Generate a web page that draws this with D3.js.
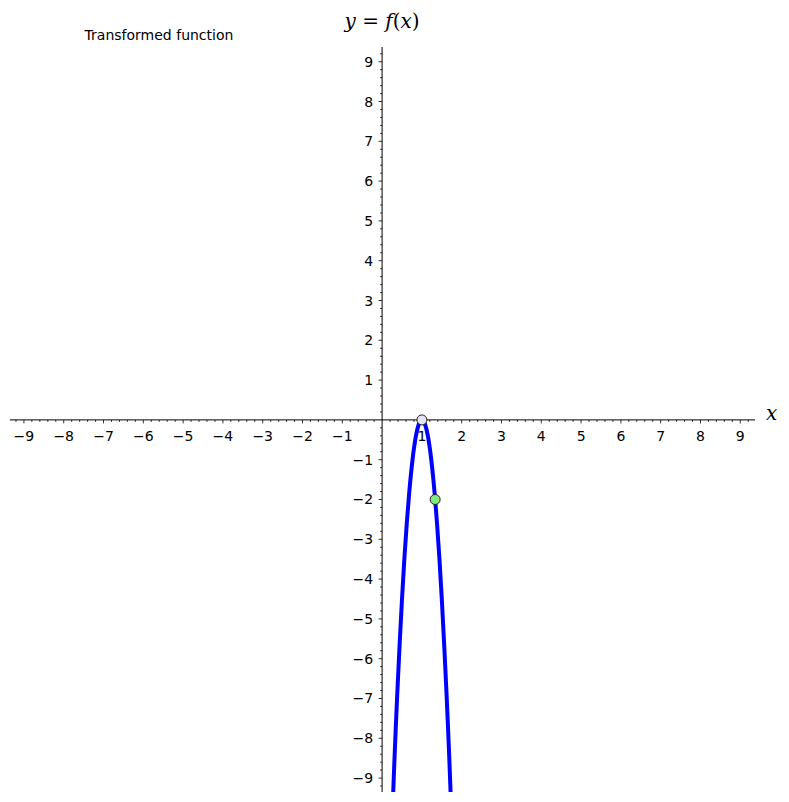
<!DOCTYPE html>
<html><head><meta charset="utf-8">
<script src="https://cdn.jsdelivr.net/npm/d3@7"></script>
<style>body{margin:0;background:#fff;} svg{display:block;}</style>
</head><body>
<svg id="c" width="789" height="802"></svg>
<script>
// Data
const curveX = [0.27, 0.32, 0.38, 0.44, 0.5, 0.56, 0.62, 0.68, 0.74, 0.8, 0.86, 0.92, 0.96, 1.0, 1.04, 1.08, 1.14, 1.2, 1.26, 1.32, 1.38, 1.44, 1.5, 1.56, 1.62, 1.68, 1.73];
const curveY = [-9.6, -8.3, -6.9, -5.65, -4.5, -3.48, -2.6, -1.84, -1.22, -0.72, -0.35, -0.115, -0.03, 0, -0.03, -0.115, -0.35, -0.72, -1.22, -1.84, -2.6, -3.48, -4.5, -5.65, -6.9, -8.3, -9.6];
const openPoint = [1, 0];
const markedPoint = [1.333, -2];
const xTicks = [-9,-8,-7,-6,-5,-4,-3,-2,-1,1,2,3,4,5,6,7,8,9];
const yTicks = [-9,-8,-7,-6,-5,-4,-3,-2,-1,1,2,3,4,5,6,7,8,9];
const titleText = "Transformed function";

const svg = d3.select("#c");
const x = d3.scaleLinear().domain([-9.35, 9.37]).range([10, 755]);
const y = d3.scaleLinear().domain([-9.35, 9.37]).range([792, 47]);
const x0 = x(0), y0 = y(0);
const font = "DejaVu Sans, sans-serif";
const fmt = d => d < 0 ? "\u2212" + Math.abs(d) : String(d);

svg.append("defs").append("clipPath").attr("id","clip")
  .append("rect").attr("x",10).attr("y",47).attr("width",745).attr("height",745);

// minor ticks
const minor = d3.range(-46, 47).map(i => i/5).filter(v => Math.abs(v - Math.round(v)) > 1e-6);
const g = svg.append("g");
minor.forEach(v => {
  if (x(v) >= 10 && x(v) <= 755)
    g.append("line").attr("x1",x(v)).attr("x2",x(v)).attr("y1",y0).attr("y2",y0+2).attr("stroke","#000").attr("stroke-width",0.8);
  if (y(v) >= 47 && y(v) <= 792)
    g.append("line").attr("y1",y(v)).attr("y2",y(v)).attr("x1",x0).attr("x2",x0-2).attr("stroke","#000").attr("stroke-width",0.8);
});
// major ticks + labels
xTicks.forEach(v => {
  g.append("line").attr("x1",x(v)).attr("x2",x(v)).attr("y1",y0).attr("y2",y0+3.5).attr("stroke","#000").attr("stroke-width",0.8);
  g.append("text").attr("x",x(v)).attr("y",y0+21).attr("text-anchor","middle")
    .attr("font-family",font).attr("font-size",14).text(fmt(v));
});
yTicks.forEach(v => {
  g.append("line").attr("y1",y(v)).attr("y2",y(v)).attr("x1",x0).attr("x2",x0-3.5).attr("stroke","#000").attr("stroke-width",0.8);
  g.append("text").attr("x",x0-9).attr("y",y(v)+5).attr("text-anchor","end")
    .attr("font-family",font).attr("font-size",14).text(fmt(v));
});
// axes lines
g.append("line").attr("x1",10).attr("x2",755).attr("y1",y0).attr("y2",y0).attr("stroke","#000").attr("stroke-width",1);
g.append("line").attr("x1",x0).attr("x2",x0).attr("y1",47).attr("y2",792).attr("stroke","#000").attr("stroke-width",1);

// curve
const pts = curveX.map((v,i) => [v, curveY[i]]);
svg.append("path").attr("clip-path","url(#clip)")
  .datum(pts)
  .attr("d", d3.line().x(d => x(d[0])).y(d => y(d[1])).curve(d3.curveCatmullRom))
  .attr("fill","none").attr("stroke","#0000ff").attr("stroke-width",4);

// points
svg.append("circle").attr("cx",x(openPoint[0])).attr("cy",y(openPoint[1])).attr("r",5)
  .attr("fill","#e3e3f5").attr("stroke","#222").attr("stroke-width",1);
svg.append("circle").attr("cx",x(markedPoint[0])).attr("cy",y(markedPoint[1])).attr("r",5)
  .attr("fill","#7eea7e").attr("stroke","#222").attr("stroke-width",1);

// titles
svg.append("text").attr("x",159).attr("y",40).attr("text-anchor","middle")
  .attr("font-family",font).attr("font-size",14).text(titleText);
const lab = svg.append("text").attr("x",x0).attr("y",28).attr("text-anchor","middle")
  .attr("font-family","DejaVu Serif, Liberation Serif, serif").attr("font-size",20);
lab.append("tspan").attr("font-style","italic").text("y");
lab.append("tspan").text(" = ");
lab.append("tspan").attr("font-style","italic").text("f");
lab.append("tspan").text("(");
lab.append("tspan").attr("font-style","italic").text("x");
lab.append("tspan").text(")");
svg.append("text").attr("x",766).attr("y",420).attr("font-family","DejaVu Serif, Liberation Serif, serif")
  .attr("font-style","italic").attr("font-size",20).text("x");
</script>
</body></html>
